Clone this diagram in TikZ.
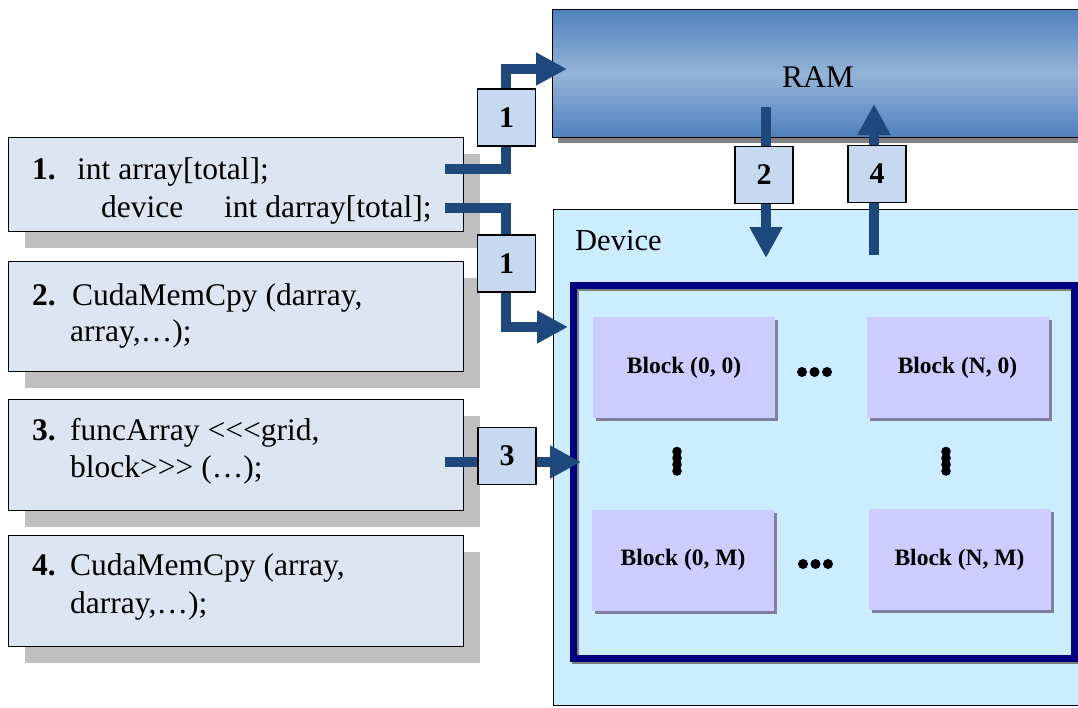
\documentclass[tikz,border=0pt]{standalone}
\usepackage{fontspec}
\setmainfont{Liberation Serif}
\usetikzlibrary{arrows.meta,shadows}
\definecolor{arrowblue}{HTML}{1F497D}
\definecolor{codefill}{HTML}{DCE6F2}
\definecolor{codeshadow}{HTML}{BFBFBF}
\definecolor{tagfill}{HTML}{C6D9F1}
\definecolor{devfill}{HTML}{CCECFF}
\definecolor{blockfill}{HTML}{CCCCFF}
\definecolor{blockshadow}{HTML}{7F7F9F}
\definecolor{ramdark}{HTML}{4F81BD}
\definecolor{ramlight}{HTML}{95B3D7}
\definecolor{navyframe}{HTML}{000080}
\definecolor{frameshadow}{HTML}{808080}
\begin{document}
\begin{tikzpicture}[x=1pt,y=-1pt,
  codebox/.style={draw=black, line width=1.3pt, fill=codefill, minimum width=455pt, anchor=north west, inner sep=0pt,
    drop shadow={shadow xshift=16pt, shadow yshift=-16pt, fill=codeshadow, opacity=1}},
  codetxt/.style={anchor=base west, inner sep=0pt, font=\fontsize{31.5pt}{37pt}\selectfont},
  tag/.style={draw=black, line width=1.3pt, fill=tagfill, minimum width=58pt, minimum height=57pt, inner sep=0pt,
    font=\fontsize{30pt}{36pt}\selectfont\bfseries},
  blk/.style={fill=blockfill, minimum width=182pt, minimum height=101pt, inner sep=0pt,
    drop shadow={shadow xshift=3pt, shadow yshift=-3pt, fill=blockshadow, opacity=1},
    font=\fontsize{23.5pt}{28pt}\selectfont\bfseries},
  flow/.style={draw=arrowblue, line width=10pt, line join=miter, -{Triangle[width=31pt,length=31pt]}},
  dot/.style={fill=black}
]
\clip (0,0) rectangle (1078,707);
\fill[white] (0,0) rectangle (1078,707);

% RAM
\node[anchor=north west, minimum width=545pt, minimum height=128pt, inner sep=0pt, draw=black, line width=1.3pt,
  top color=ramdark, bottom color=ramdark, middle color=ramlight,
  drop shadow={shadow xshift=5pt, shadow yshift=-5pt, fill=frameshadow, opacity=1}] (ram) at (552,9) {};
\node[anchor=base, inner sep=0pt, font=\fontsize{31.5pt}{37pt}\selectfont] (ramtxt) at (818,87) {RAM};

% Device
\node[anchor=north west, minimum width=545pt, minimum height=496pt, inner sep=0pt, draw=black, line width=1.3pt, fill=devfill] (dev) at (553,209) {};
\node[anchor=base west, inner sep=0pt, font=\fontsize{30.5pt}{36pt}\selectfont] (devtxt) at (575,250) {Device};

% grid frame
\draw[line width=7pt, frameshadow] (575.5,287.5) rectangle (1076.5,660.5);
\node[draw=navyframe, line width=7pt, minimum width=501pt, minimum height=373pt, inner sep=0pt, anchor=north west] (grid) at (569.5,281.5) {};

% blocks
\node[blk] (b00) at (684,367.5) {Block (0, 0)};
\node[blk] (bn0) at (957.5,367.5) {Block (N, 0)};
\node[blk] (b0m) at (683,560) {Block (0, M)};
\node[blk] (bnm) at (959.5,559.5) {Block (N, M)};

% dots
\foreach \xx in {802,814.5,827} {\fill[dot] (\xx,372) circle (5pt); \fill[dot] (\xx+1,564) circle (5pt);}
\foreach \yy in {451.5,458,464.5,471} {\fill[dot] (677,\yy) circle (4.8pt); \fill[dot] (946,\yy) circle (4.8pt);}

% code boxes
\node[codebox, minimum height=94pt] (c1) at (8,137) {};
\node[codebox, minimum height=110pt] (c2) at (8,261) {};
\node[codebox, minimum height=111pt] (c3) at (8,399) {};
\node[codebox, minimum height=111pt] (c4) at (8,535) {};

\node[codetxt] (n1) at (32,179) {\textbf{1.}};
\node[codetxt] (t1a) at (77,179) {int array[total];};
\node[codetxt] (t1b) at (101,217) {device};
\node[codetxt] (t1c) at (224,217) {int darray[total];};

\node[codetxt] (n2) at (32,305) {\textbf{2.}};
\node[codetxt] (t2a) at (72,305) {CudaMemCpy (darray,};
\node[codetxt] (t2b) at (70,341) {array,…);};

\node[codetxt] (n3) at (32,440) {\textbf{3.}};
\node[codetxt] (t3a) at (70,440) {funcArray <\kern0pt<\kern0pt<grid,};
\node[codetxt] (t3b) at (70,477) {block>\kern0pt>\kern0pt> (…);};

\node[codetxt] (n4) at (32,575) {\textbf{4.}};
\node[codetxt] (t4a) at (70,575) {CudaMemCpy (array,};
\node[codetxt] (t4b) at (70,613) {darray,…);};

% arrows
\coordinate (s1a) at (445,169);
\coordinate (k1a) at (506,69);
\coordinate (e1a) at (567,69);
\coordinate (s1b) at (445,208);
\coordinate (k1b) at (506,327);
\coordinate (e1b) at (568,327);
\coordinate (s2) at (766,107);
\coordinate (e2) at (766,258);
\coordinate (s4) at (874,255);
\coordinate (e4) at (874,104);
\coordinate (s3) at (445,462);
\coordinate (e3) at (581,462);

\draw[flow] (s1a) -| (k1a) -- (e1a);
\draw[flow] (s1b) -| (k1b) -- (e1b);
\draw[flow] (s2) -- (e2);
\draw[flow] (s4) -- (e4);
\draw[flow] (s3) -- (e3);

\node[tag] (g1a) at (506.5,117.5) {1};
\node[tag] (g1b) at (506.5,263.5) {1};
\node[tag] (g2) at (764,175) {2};
\node[tag] (g4) at (877,174) {4};
\node[tag] (g3) at (507,456) {3};
\end{tikzpicture}
\end{document}
